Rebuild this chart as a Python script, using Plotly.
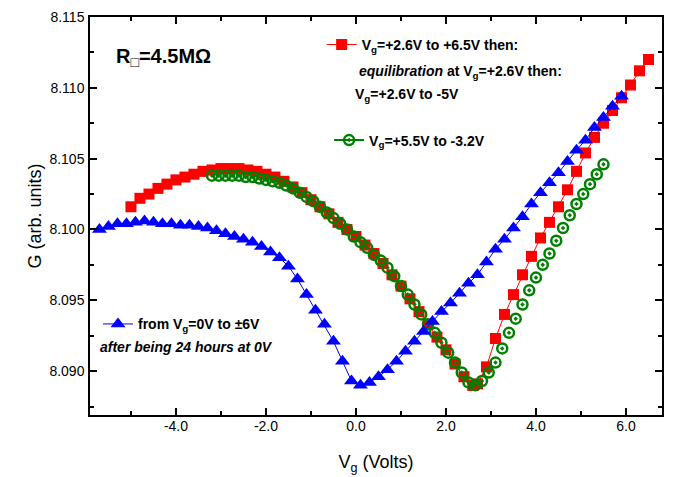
import plotly.graph_objects as go

# ---------------- data ----------------
blue_v = [-5.7, -5.5, -5.3, -5.1, -4.9, -4.7, -4.5, -4.3, -4.1, -3.9, -3.7, -3.5, -3.3, -3.1,
          -2.9, -2.7, -2.5, -2.3, -2.1, -1.9, -1.7, -1.5, -1.3, -1.1, -0.9, -0.7, -0.5, -0.3, -0.1,
          0.1, 0.3, 0.5, 0.7, 0.9, 1.1, 1.3, 1.5, 1.7, 1.9, 2.1, 2.3, 2.5, 2.7, 2.9, 3.1, 3.3, 3.5,
          3.7, 3.9, 4.1, 4.3, 4.5, 4.7, 4.9, 5.1, 5.3, 5.5, 5.7, 5.9]
blue_g = [8.1000, 8.1002, 8.1004, 8.1004, 8.1005, 8.1006, 8.1005, 8.1004, 8.1004, 8.1003, 8.1003,
          8.1002, 8.1001, 8.0999, 8.0997, 8.0995, 8.0993, 8.0991, 8.0988, 8.0984, 8.0980, 8.0974,
          8.0965, 8.0954, 8.0943, 8.0933, 8.0921, 8.0907, 8.0893,
          8.0890, 8.0892, 8.0896, 8.0901, 8.0907, 8.0914, 8.0921, 8.0928, 8.0935, 8.0942, 8.0948,
          8.0955, 8.0962, 8.0968, 8.0977, 8.0986, 8.0993, 8.1001, 8.1009, 8.1018, 8.1026, 8.1033,
          8.1040, 8.1048, 8.1056, 8.1063, 8.1072, 8.1079, 8.1087, 8.1094]

red_up_v = [2.6, 2.7, 2.9, 3.1, 3.3, 3.5, 3.7, 3.9, 4.1, 4.3, 4.5, 4.7, 4.9, 5.1, 5.3, 5.5, 5.7,
            5.9, 6.1, 6.3, 6.5]
red_up_g = [8.0890, 8.0891, 8.0903, 8.0923, 8.0940, 8.0954, 8.0968, 8.0981, 8.0994, 8.1005,
            8.1016, 8.1028, 8.1041, 8.1054, 8.1065, 8.1075, 8.1084, 8.1093, 8.1102, 8.1112, 8.1120]

red_down_v = [2.6, 2.4, 2.2, 2.0, 1.8, 1.6, 1.4, 1.2, 1.0, 0.8, 0.6, 0.4, 0.2, 0.0, -0.2, -0.4,
              -0.6, -0.8, -1.0, -1.2, -1.4, -1.6, -1.8, -2.0, -2.2, -2.4, -2.6, -2.8, -3.0, -3.2,
              -3.4, -3.6, -3.8, -4.0, -4.2, -4.4, -4.6, -4.8, -5.0]
red_down_g = [8.0890, 8.0896, 8.0905, 8.0915, 8.0924, 8.0933, 8.0942, 8.0951, 8.0960, 8.0968,
              8.0976, 8.0983, 8.0989, 8.0995, 8.1000, 8.1005, 8.1011, 8.1016, 8.1021, 8.1026,
              8.1030, 8.1034, 8.1037, 8.1039, 8.1041, 8.1042, 8.1043, 8.1043, 8.1043, 8.1042,
              8.1041, 8.1039, 8.1037, 8.1035, 8.1032, 8.1029, 8.1025, 8.1022, 8.1016]

green_v = [5.50, 5.35, 5.20, 5.05, 4.90, 4.75, 4.60, 4.45, 4.30, 4.15, 4.00, 3.85, 3.70, 3.55,
           3.40, 3.25, 3.10, 2.95, 2.80, 2.65, 2.50, 2.35, 2.20, 2.05, 1.90, 1.75, 1.60, 1.45,
           1.30, 1.15, 1.00, 0.85, 0.70, 0.55, 0.40, 0.25, 0.10, -0.05, -0.20, -0.35, -0.50,
           -0.65, -0.80, -0.95, -1.10, -1.25, -1.40, -1.55, -1.70, -1.85, -2.00, -2.15, -2.30,
           -2.45, -2.60, -2.75, -2.90, -3.05, -3.20]
green_g = [8.1046, 8.1039, 8.1032, 8.1025, 8.1018, 8.1010, 8.1001, 8.0992, 8.0983, 8.0975,
           8.0966, 8.0957, 8.0947, 8.0937, 8.0927, 8.0916, 8.0906, 8.0899, 8.0893, 8.0890,
           8.0892, 8.0899, 8.0906, 8.0913, 8.0920, 8.0927, 8.0933, 8.0940, 8.0947, 8.0954,
           8.0960, 8.0967, 8.0973, 8.0978, 8.0982, 8.0987, 8.0991, 8.0995, 8.1000, 8.1004,
           8.1008, 8.1012, 8.1016, 8.1020, 8.1023, 8.1026, 8.1029, 8.1031, 8.1033, 8.1034,
           8.1035, 8.1036, 8.1037, 8.1037, 8.1038, 8.1038, 8.1038, 8.1038, 8.1038]

x_tick_vals = [-4, -2, 0, 2, 4, 6]
x_tick_text = ["-4.0", "-2.0", "0.0", "2.0", "4.0", "6.0"]
x_minor_vals = [-5, -3, -1, 1, 3, 5]

# ---------------- style ----------------
FONT = "Liberation Sans, Arial, sans-serif"
RED = "#ff0000"
GREEN = "#008000"
BLUE = "#0000ff"

fig = go.Figure()

red_v = red_up_v + [None] + red_down_v
red_g = red_up_g + [None] + red_down_g

fig.add_trace(go.Scatter(
    x=red_v, y=red_g, mode="lines+markers", connectgaps=False,
    name="V<sub>g</sub>=+2.6V to +6.5V then:",
    line=dict(color=RED, width=1),
    marker=dict(symbol="square", size=11, color=RED, line=dict(width=0)),
    legend="legend",
))

green_marker = dict(symbol="circle-open-dot", size=10, color=GREEN, line=dict(width=2.5, color=GREEN))
fig.add_trace(go.Scatter(
    x=green_v, y=green_g, mode="markers", showlegend=False,
    marker=green_marker,
))
# legend entry for the green series (line + symbol as in the original legend)
fig.add_trace(go.Scatter(
    x=[None], y=[None], mode="lines+markers",
    name="V<sub>g</sub>=+5.5V to -3.2V",
    line=dict(color=GREEN, width=2),
    marker=green_marker,
    legend="legend2",
))

fig.add_trace(go.Scatter(
    x=blue_v, y=blue_g, mode="lines+markers",
    name="from V<sub>g</sub>=0V to ±6V",
    line=dict(color=BLUE, width=1),
    marker=dict(symbol="triangle-up", size=13, color=BLUE, line=dict(width=0)),
    legend="legend3",
))

legend_common = dict(
    xanchor="left", yanchor="top", bgcolor="rgba(0,0,0,0)", borderwidth=0,
    font=dict(family=FONT, size=14, color="black", weight="bold"),
)

fig.update_layout(
    width=683, height=477,
    margin=dict(l=90, r=21, t=17, b=62, autoexpand=False),
    paper_bgcolor="white", plot_bgcolor="white",
    font=dict(family=FONT, color="black"),
    legend=dict(x=0.405, y=0.97, **legend_common),
    legend2=dict(x=0.418, y=0.73, **legend_common),
    legend3=dict(x=0.014, y=0.268, **legend_common),
    xaxis=dict(
        automargin=False,
        range=[-5.91, 6.8], showgrid=False, zeroline=False,
        showline=True, linecolor="black", linewidth=1.5, mirror="allticks",
        ticks="inside", ticklen=7, tickwidth=1.5, tickcolor="black",
        tickmode="array", tickvals=x_tick_vals, ticktext=x_tick_text,
        tickfont=dict(family=FONT, size=14), ticklabelstandoff=-3,
        minor=dict(tickmode="array", tickvals=x_minor_vals, ticks="inside",
                   ticklen=4, tickwidth=1.5, tickcolor="black"),
        title=dict(text="V<sub>g</sub> (Volts)", font=dict(family=FONT, size=18), standoff=23),
    ),
    yaxis=dict(
        automargin=False,
        range=[8.0869, 8.115], showgrid=False, zeroline=False,
        showline=True, linecolor="black", linewidth=1.5, mirror="allticks",
        ticks="inside", ticklen=7, tickwidth=1.5, tickcolor="black",
        tick0=8.09, dtick=0.005, tickformat=".3f",
        tickfont=dict(family=FONT, size=14), ticklabelstandoff=1,
        minor=dict(dtick=0.0025, ticks="inside", ticklen=4, tickwidth=1.5, tickcolor="black"),
        title=dict(text="G (arb. units)", font=dict(family=FONT, size=18), standoff=3),
    ),
)

bold = dict(family=FONT, size=14, color="black", weight="bold")
fig.add_annotation(xref="paper", yref="paper", x=0.042, y=0.899, xanchor="left", yanchor="middle",
                   text="R<sub>□</sub>=4.5MΩ", showarrow=False,
                   font=dict(family=FONT, size=20, color="black", weight="bold"))
fig.add_annotation(xref="paper", yref="paper", x=0.466, y=0.862, xanchor="left", yanchor="middle",
                   text="<i>equilibration</i> at V<sub>g</sub>=+2.6V then:", showarrow=False, font=bold)
fig.add_annotation(xref="paper", yref="paper", x=0.460, y=0.805, xanchor="left", yanchor="middle",
                   text="V<sub>g</sub>=+2.6V to -5V", showarrow=False, font=bold)
fig.add_annotation(xref="paper", yref="paper", x=0.014, y=0.170, xanchor="left", yanchor="middle",
                   text="<i>after being 24 hours at 0V</i>", showarrow=False, font=bold)

fig.write_html("out.html", config={"displayModeBar": False},
               post_script="document.body.style.margin='0';")
